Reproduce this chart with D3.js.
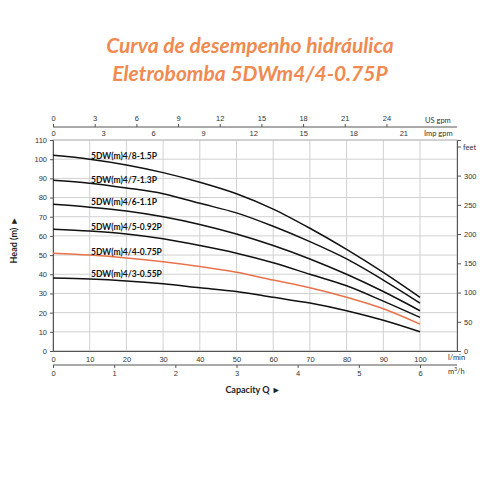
<!DOCTYPE html><html><head><meta charset="utf-8">
<script src="https://cdn.jsdelivr.net/npm/d3@7"></script>
<style>body{margin:0;background:#fff}svg{font-family:Lato,"Open Sans",sans-serif}</style></head><body>
<svg id="c" width="500" height="500"></svg>
<script>
const flows=[0,10,20,30,40,50,60,70,80,90,100];
const models=["5DW(m)4/8-1.5P","5DW(m)4/7-1.3P","5DW(m)4/6-1.1P","5DW(m)4/5-0.92P","5DW(m)4/4-0.75P","5DW(m)4/3-0.55P"];
const heads=[
[102,100,97,93,88,82,74,64,53,41,28],
[89,87.5,85,82,77,72,65,57,48,37,25],
[76.5,75,73,70,66,61,55,48,40,31,21],
[63.5,62.5,61,58.5,55,51,46,40,34,26,17.5],
[51,50,48.5,46.5,44,41,37,33,28,22,14],
[38,37.5,36.5,35,33,31,28,25,21,16,10]];
const colors=["#111","#111","#111","#111","#e8734a","#111"];
const labelY=[101.7,89.6,77.7,65,52,40.6];
const headTicks=d3.range(0,111,10), flowTicks=d3.range(0,101,10);
const feetTicks=[0,50,100,150,200,250,300], m3Ticks=[0,1,2,3,4,5,6];
const usTicks=[0,3,6,9,12,15,18,21,24], impTicks=[0,3,6,9,12,15,18,21];
const svg=d3.select("#c");
const L=53,R=457,T=140,B=351;
const x=d3.scaleLinear().domain([0,100]).range([L,420]);
const y=d3.scaleLinear().domain([0,110]).range([B,T]);
const xMax=x.invert(R);
svg.append("text").attr("x",250).attr("y",53).attr("text-anchor","middle").attr("fill","#f08a50").attr("font-size",21).attr("font-weight","bold").attr("font-style","italic").text("Curva de desempenho hidráulica");
svg.append("text").attr("x",250).attr("y",81).attr("text-anchor","middle").attr("fill","#f08a50").attr("font-size",21).attr("font-weight","bold").attr("font-style","italic").text("Eletrobomba 5DWm4/4-0.75P");
const g=svg.append("g");
headTicks.forEach(h=>g.append("line").attr("x1",L).attr("x2",R).attr("y1",y(h)).attr("y2",y(h)).attr("stroke","#d0d0d0"));
flowTicks.forEach(f=>g.append("line").attr("x1",x(f)).attr("x2",x(f)).attr("y1",T).attr("y2",B).attr("stroke","#d0d0d0"));
g.append("rect").attr("x",L).attr("y",T).attr("width",R-L).attr("height",B-T).attr("fill","none").attr("stroke","#bbb");
const fs=7.5;
svg.append("g").attr("transform",`translate(${L},0)`).call(d3.axisLeft(y).tickValues(headTicks).tickSize(3)).call(a=>{a.selectAll("text").attr("font-size",fs).attr("fill","#333");a.selectAll("line,path").attr("stroke","#555");});
const ft=d3.scaleLinear().domain([0,110/0.3048]).range([B,T]);
svg.append("g").attr("transform",`translate(${R},0)`).call(d3.axisRight(ft).tickValues(feetTicks).tickSize(4)).call(a=>{a.selectAll("text").attr("font-size",fs).attr("fill","#333");a.selectAll("line,path").attr("stroke","#555");});
svg.append("line").attr("x1",R).attr("x2",R+4).attr("y1",147).attr("y2",147).attr("stroke","#555");
svg.append("text").attr("x",R+6).attr("y",150).attr("font-size",fs).attr("fill","#333").text("feet");
svg.append("g").attr("transform",`translate(0,${B})`).call(d3.axisBottom(x.copy().domain([0,xMax]).range([L,R])).tickValues(flowTicks).tickSize(0).tickPadding(6)).call(a=>{a.selectAll("text").attr("font-size",fs).attr("fill","#333");a.select("path").attr("stroke","#555");});
svg.append("text").attr("x",448).attr("y",360).attr("font-size",fs).attr("fill","#333").text("l/min");
const m3=d3.scaleLinear().domain([0,6]).range([L,420]);
svg.append("g").attr("transform",`translate(0,365)`).call(d3.axisBottom(m3).tickValues(m3Ticks).tickFormat(d3.format("d")).tickSize(3)).call(a=>{a.selectAll("text").attr("font-size",fs).attr("fill","#333");a.selectAll("line").attr("stroke","#555");a.select("path").remove();});
svg.append("line").attr("x1",L).attr("x2",R).attr("y1",365).attr("y2",365).attr("stroke","#555");
svg.append("text").attr("x",448).attr("y",374).attr("font-size",fs).attr("fill","#333").html("m<tspan dy='-3' font-size='5'>3</tspan><tspan dy='3'>/h</tspan>");
const imp=d3.scaleLinear().domain([0,100*0.219969]).range([L,420]);
svg.append("g").attr("transform",`translate(0,${T})`).call(d3.axisTop(imp).tickValues(impTicks).tickSize(0).tickPadding(4)).call(a=>{a.selectAll("text").attr("font-size",fs).attr("fill","#333");a.select("path").remove();});
svg.append("text").attr("x",424).attr("y",136).attr("font-size",fs).attr("fill","#333").text("Imp gpm");
const us=d3.scaleLinear().domain([0,100*0.264172]).range([L,420]);
svg.append("g").attr("transform",`translate(0,127)`).call(d3.axisTop(us).tickValues(usTicks).tickSize(3)).call(a=>{a.selectAll("text").attr("font-size",fs).attr("fill","#333");a.selectAll("line").attr("stroke","#555");a.select("path").remove();});
svg.append("line").attr("x1",L).attr("x2",R).attr("y1",127).attr("y2",127).attr("stroke","#555");
svg.append("text").attr("x",425).attr("y",123).attr("font-size",fs).attr("fill","#333").text("US gpm");
const line=d3.line().x((d,i)=>x(flows[i])).y(d=>y(d)).curve(d3.curveMonotoneX);
heads.forEach((h,k)=>{
 svg.append("path").attr("d",line(h)).attr("fill","none").attr("stroke",colors[k]).attr("stroke-width",1.5);
 svg.append("text").attr("x",91).attr("y",y(labelY[k])+3.5).attr("font-size",8.5).attr("font-weight","bold").attr("fill","#111").text(models[k]);
});
svg.append("text").attr("transform","translate(17,240) rotate(-90)").attr("text-anchor","middle").attr("font-size",9).attr("font-weight","bold").attr("fill","#222").text("Head (m)  ►");
svg.append("text").attr("x",253).attr("y",393).attr("text-anchor","middle").attr("font-size",9).attr("font-weight","bold").attr("fill","#222").text("Capacity Q ►");
</script></body></html>
